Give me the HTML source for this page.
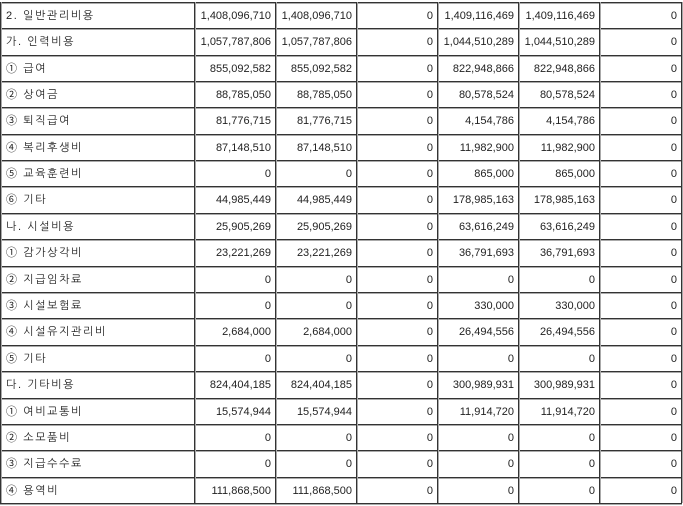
<!DOCTYPE html>
<html><head><meta charset="utf-8"><style>
body{margin:0;width:683px;height:506px;background:#fff;overflow:hidden;position:relative;font-family:"Liberation Sans","NanumGothic","Noto Sans CJK KR",sans-serif;font-size:11px;color:#222}
.h{position:absolute;left:0;width:682px;height:1px;background:#333;border-bottom:1px solid #aaa;box-sizing:content-box}
.v{position:absolute;top:2px;height:501px;width:1px;background:#333;border-right:1px solid #aaa}
.c{position:absolute;height:26px;line-height:26px;white-space:nowrap}
.l{left:6px;letter-spacing:1.6px}
.n{text-align:right}
</style></head><body>
<div id="g"></div>
<script>
var ys=[2,28,55,81,107,134,160,186,213,239,266,292,318,345,371,398,424,450,477,503];
var xs=[0,194,275,356,437,518,599,681];
var rows=[
["2. 일반관리비용","1,408,096,710","1,408,096,710","0","1,409,116,469","1,409,116,469","0"],
["가. 인력비용","1,057,787,806","1,057,787,806","0","1,044,510,289","1,044,510,289","0"],
["① 급여","855,092,582","855,092,582","0","822,948,866","822,948,866","0"],
["② 상여금","88,785,050","88,785,050","0","80,578,524","80,578,524","0"],
["③ 퇴직급여","81,776,715","81,776,715","0","4,154,786","4,154,786","0"],
["④ 복리후생비","87,148,510","87,148,510","0","11,982,900","11,982,900","0"],
["⑤ 교육훈련비","0","0","0","865,000","865,000","0"],
["⑥ 기타","44,985,449","44,985,449","0","178,985,163","178,985,163","0"],
["나. 시설비용","25,905,269","25,905,269","0","63,616,249","63,616,249","0"],
["① 감가상각비","23,221,269","23,221,269","0","36,791,693","36,791,693","0"],
["② 지급임차료","0","0","0","0","0","0"],
["③ 시설보험료","0","0","0","330,000","330,000","0"],
["④ 시설유지관리비","2,684,000","2,684,000","0","26,494,556","26,494,556","0"],
["⑤ 기타","0","0","0","0","0","0"],
["다. 기타비용","824,404,185","824,404,185","0","300,989,931","300,989,931","0"],
["① 여비교통비","15,574,944","15,574,944","0","11,914,720","11,914,720","0"],
["② 소모품비","0","0","0","0","0","0"],
["③ 지급수수료","0","0","0","0","0","0"],
["④ 용역비","111,868,500","111,868,500","0","0","0","0"]];
var h="";
ys.forEach(function(y){h+='<div class="h" style="top:'+y+'px"></div>';});
xs.forEach(function(x){h+='<div class="v" style="left:'+x+'px"></div>';});
rows.forEach(function(r,i){
 var t=ys[i]+1;
 h+='<div class="c l" style="top:'+t+'px">'+r[0]+'</div>';
 for(var j=1;j<7;j++){
  h+='<div class="c n" style="top:'+t+'px;left:'+(xs[j]+2)+'px;width:'+(xs[j+1]-xs[j]-6)+'px">'+r[j]+'</div>';
 }
});
document.getElementById("g").innerHTML=h;
</script>
</body></html>
